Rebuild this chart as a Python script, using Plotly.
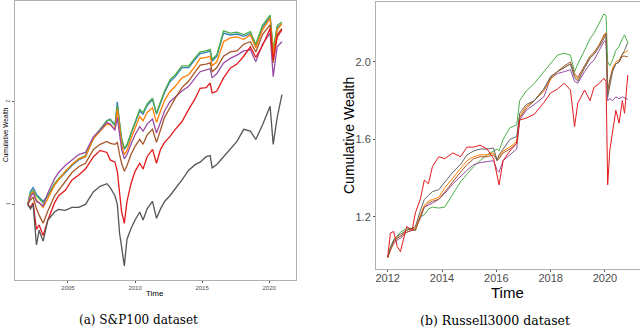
import plotly.graph_objects as go
import math

# ---- (a) S&P100: shared time grid (decimal years) ----
sp_time = [2002.0, 2002.2, 2002.4, 2002.65, 2002.85, 2003.15, 2003.5, 2004.0, 2004.3, 2004.8,
           2005.3, 2005.8, 2006.3, 2006.9, 2007.4, 2007.9, 2008.15, 2008.5, 2008.68, 2008.85,
           2009.0, 2009.2, 2009.4, 2009.7, 2010.0, 2010.35, 2010.6, 2010.9, 2011.3, 2011.6,
           2011.9, 2012.2, 2012.6, 2013.0, 2013.5, 2014.0, 2014.5, 2014.85, 2015.3, 2015.6,
           2015.75, 2016.1, 2016.6, 2017.1, 2017.6, 2018.1, 2018.6, 2019.0, 2019.5, 2020.07,
           2020.3, 2020.6, 2020.95]

sp_blue = [1.00, 1.09, 1.12, 1.07, 1.05, 1.02, 1.06, 1.15, 1.18, 1.24, 1.30, 1.35, 1.38, 1.56, 1.65,
           1.76, 1.78, 1.71, 2.00, 1.73, 1.55, 1.45, 1.49, 1.61, 1.74, 1.88, 1.84, 1.95, 2.03, 1.84,
           1.98, 2.13, 2.29, 2.37, 2.52, 2.52, 2.67, 2.77, 2.79, 2.82, 2.63, 2.72, 3.18, 3.14, 3.16,
           3.11, 3.17, 2.93, 3.31, 3.55, 2.80, 3.30, 3.38]
sp_green = [1.00, 1.08, 1.10, 1.06, 1.04, 1.01, 1.06, 1.15, 1.19, 1.25, 1.31, 1.36, 1.39, 1.57, 1.66,
            1.76, 1.77, 1.70, 1.95, 1.72, 1.56, 1.46, 1.50, 1.62, 1.75, 1.90, 1.86, 1.97, 2.05, 1.85,
            2.00, 2.15, 2.32, 2.40, 2.55, 2.55, 2.70, 2.80, 2.82, 2.85, 2.66, 2.75, 3.23, 3.18, 3.20,
            3.15, 3.21, 2.95, 3.35, 3.59, 2.85, 3.35, 3.43]
sp_orange = [1.00, 1.06, 1.09, 1.03, 1.01, 0.98, 1.04, 1.14, 1.18, 1.25, 1.31, 1.36, 1.38, 1.56, 1.64,
             1.72, 1.71, 1.66, 1.90, 1.66, 1.50, 1.40, 1.44, 1.56, 1.67, 1.81, 1.76, 1.86, 1.92, 1.74,
             1.88, 2.02, 2.14, 2.22, 2.35, 2.40, 2.55, 2.68, 2.70, 2.72, 2.55, 2.62, 3.00, 3.08, 3.10,
             3.05, 3.14, 2.88, 3.25, 3.51, 2.75, 3.25, 3.39]
sp_purple = [1.00, 1.05, 1.08, 1.02, 1.01, 0.99, 1.08, 1.19, 1.24, 1.30, 1.35, 1.40, 1.42, 1.58, 1.65,
             1.74, 1.72, 1.65, 1.80, 1.58, 1.45, 1.36, 1.40, 1.50, 1.60, 1.69, 1.64, 1.72, 1.78, 1.62,
             1.74, 1.88, 2.00, 2.07, 2.15, 2.22, 2.35, 2.45, 2.48, 2.50, 2.35, 2.42, 2.60, 2.68, 2.74,
             2.82, 2.84, 2.62, 2.95, 3.18, 2.37, 2.90, 3.00]
sp_brown = [1.00, 1.03, 1.05, 0.97, 0.93, 0.88, 0.956, 1.06, 1.10, 1.17, 1.24, 1.29, 1.32, 1.45, 1.50,
            1.53, 1.51, 1.50, 1.52, 1.40, 1.32, 1.25, 1.30, 1.40, 1.48, 1.55, 1.50, 1.60, 1.66, 1.52,
            1.65, 1.80, 1.92, 2.05, 2.20, 2.30, 2.45, 2.56, 2.58, 2.60, 2.45, 2.52, 2.72, 2.80, 2.82,
            2.95, 3.00, 2.80, 3.15, 3.36, 2.60, 3.15, 3.28]
sp_red = [1.00, 0.98, 1.01, 0.845, 0.87, 0.81, 0.90, 1.01, 1.06, 1.10, 1.18, 1.22, 1.27, 1.38, 1.44,
          1.42, 1.35, 1.33, 1.25, 1.10, 0.95, 0.88, 1.02, 1.15, 1.25, 1.32, 1.27, 1.38, 1.45, 1.32,
          1.45, 1.52, 1.58, 1.66, 1.75, 1.90, 2.05, 2.19, 2.20, 2.27, 2.12, 2.15, 2.35, 2.51, 2.58,
          2.72, 2.90, 2.70, 2.92, 3.28, 2.65, 3.10, 3.25]
sp_gray = [1.00, 0.97, 1.00, 0.76, 0.84, 0.78, 0.90, 0.95, 0.967, 0.96, 0.98, 0.98, 1.00, 1.09, 1.13,
           1.15, 1.12, 1.06, 1.00, 0.82, 0.75, 0.66, 0.79, 0.85, 0.90, 0.95, 0.90, 0.97, 1.02, 0.91,
           0.97, 1.02, 1.06, 1.11, 1.18, 1.26, 1.31, 1.33, 1.38, 1.39, 1.28, 1.31, 1.38, 1.46, 1.53,
           1.66, 1.64, 1.55, 1.71, 1.94, 1.50, 1.80, 2.10]

# ---- (b) Russell3000 ----
ru_time = [2012.0, 2012.1, 2012.22, 2012.35, 2012.47, 2012.7, 2012.9, 2013.02, 2013.2, 2013.35,
           2013.5, 2013.65, 2013.88, 2014.1, 2014.4, 2014.68, 2014.92, 2015.17, 2015.4, 2015.66,
           2015.9, 2016.03, 2016.1, 2016.25, 2016.5, 2016.75, 2016.86, 2017.1, 2017.4, 2017.75,
           2018.0, 2018.25, 2018.5, 2018.73, 2018.88, 2019.0, 2019.25, 2019.45, 2019.6, 2019.8,
           2019.96, 2020.04, 2020.1, 2020.18, 2020.28, 2020.4, 2020.52, 2020.64, 2020.72, 2020.84]

ru_green = [0.99, 1.04, 1.08, 1.10, 1.12, 1.14, 1.14, 1.13, 1.20, 1.21, 1.24, 1.25, 1.245, 1.25, 1.32,
            1.38, 1.42, 1.46, 1.49, 1.52, 1.54, 1.55, 1.54, 1.60, 1.66, 1.675, 1.80, 1.85, 1.89, 1.95,
            1.99, 2.035, 2.045, 2.035, 1.95, 1.99, 2.06, 2.12, 2.15, 2.20, 2.248, 2.24, 2.00, 1.98, 2.01,
            2.06, 2.08, 2.12, 2.14, 2.10]
ru_orange = [0.99, 1.03, 1.07, 1.09, 1.10, 1.13, 1.14, 1.14, 1.21, 1.26, 1.28, 1.29, 1.30, 1.35, 1.40,
             1.45, 1.49, 1.51, 1.52, 1.52, 1.53, 1.50, 1.51, 1.54, 1.56, 1.59, 1.72, 1.77, 1.80, 1.85,
             1.91, 1.95, 1.97, 1.99, 1.93, 1.91, 1.97, 2.02, 2.045, 2.09, 2.13, 2.15, 1.84, 1.90, 1.97,
             2.00, 2.01, 2.04, 2.05, 2.06]
ru_purple = [0.99, 1.03, 1.06, 1.08, 1.09, 1.12, 1.13, 1.14, 1.19, 1.25, 1.26, 1.27, 1.29, 1.32, 1.37,
             1.41, 1.44, 1.47, 1.48, 1.485, 1.49, 1.44, 1.43, 1.49, 1.52, 1.55, 1.70, 1.75, 1.78, 1.82,
             1.915, 1.94, 1.95, 1.96, 1.90, 1.89, 1.95, 1.99, 2.01, 2.06, 2.105, 2.11, 1.80, 1.81, 1.80,
             1.82, 1.81, 1.82, 1.815, 1.807]
ru_brown = [0.99, 1.03, 1.07, 1.09, 1.10, 1.12, 1.13, 1.13, 1.20, 1.25, 1.27, 1.28, 1.29, 1.33, 1.38,
            1.43, 1.47, 1.50, 1.51, 1.51, 1.52, 1.49, 1.50, 1.53, 1.55, 1.58, 1.71, 1.76, 1.80, 1.86,
            1.92, 1.95, 1.98, 2.00, 1.94, 1.92, 1.98, 2.03, 2.05, 2.09, 2.14, 2.15, 1.85, 1.91, 1.96,
            1.99, 2.00, 2.03, 2.03, 2.027]
ru_red = [0.99, 1.116, 1.124, 1.047, 1.02, 1.15, 1.13, 1.22, 1.29, 1.39, 1.37, 1.46, 1.51, 1.50, 1.53,
          1.51, 1.56, 1.56, 1.57, 1.55, 1.50, 1.40, 1.365, 1.49, 1.54, 1.58, 1.70, 1.71, 1.73, 1.79,
          1.84, 1.86, 1.89, 1.855, 1.666, 1.787, 1.855, 1.80, 1.87, 1.89, 1.916, 1.90, 1.365, 1.546, 1.63,
          1.75, 1.684, 1.80, 1.735, 1.933]
ru_gray = [0.99, 1.04, 1.08, 1.10, 1.11, 1.13, 1.14, 1.15, 1.23, 1.29, 1.31, 1.33, 1.34, 1.38, 1.43,
           1.47, 1.52, 1.54, 1.55, 1.55, 1.555, 1.49, 1.52, 1.55, 1.60, 1.615, 1.735, 1.78, 1.80, 1.86,
           1.925, 1.95, 1.97, 1.99, 1.92, 1.90, 1.97, 2.02, 2.04, 2.08, 2.12, 2.14, 1.82, 1.88, 1.95,
           1.99, 2.00, 2.04, 2.06, 2.10]

sp_series = [(sp_blue, "#377EB8"), (sp_green, "#4DAF4A"), (sp_orange, "#FF7F00"),
             (sp_purple, "#984EA3"), (sp_brown, "#A65628"), (sp_red, "#E41A1C"), (sp_gray, "#555555")]
ru_series = [(ru_green, "#4DAF4A"), (ru_purple, "#984EA3"), (ru_orange, "#FF7F00"),
             (ru_brown, "#A65628"), (ru_gray, "#666666"), (ru_red, "#E41A1C")]

W, H = 640, 334
fig = go.Figure()
for vals, col in sp_series:
    fig.add_trace(go.Scatter(x=sp_time, y=vals, mode="lines", line=dict(color=col, width=1.3),
                             xaxis="x", yaxis="y", showlegend=False, hoverinfo="skip"))
for vals, col in ru_series:
    fig.add_trace(go.Scatter(x=ru_time, y=vals, mode="lines", line=dict(color=col, width=1.0),
                             xaxis="x2", yaxis="y2", showlegend=False, hoverinfo="skip"))

frame = dict(showline=True, linecolor="#b0b0b0", linewidth=1, mirror=True, showgrid=False,
             zeroline=False, ticks="outside", tickcolor="#555555", automargin=False)


def label(text, x, y, size, family="Liberation Sans", angle=0):
    # place text by its centre, in pixels from the top-left corner
    return dict(text=text, x=x / W, y=(H - y) / H, xref="paper", yref="paper", showarrow=False,
                xanchor="center", yanchor="middle", textangle=angle,
                font=dict(family=family, size=size, color="black"))


fig.update_layout(
    width=W, height=H, margin=dict(l=0, r=0, t=0, b=0),
    plot_bgcolor="white", paper_bgcolor="white",
    xaxis=dict(frame, domain=[15 / W, 296 / W], range=[2001.05, 2022.0],
               tickvals=[2005, 2010, 2015, 2020], ticklen=2,
               tickfont=dict(family="Liberation Sans", size=6, color="#4d4d4d")),
    yaxis=dict(frame, domain=[(H - 280) / H, (H - 1) / H], type="log",
               range=[math.log10(0.60), math.log10(3.95)], tickvals=[1, 2], ticktext=["1", "2"],
               ticklen=2, tickangle=-90,
               tickfont=dict(family="Liberation Sans", size=5, color="#4d4d4d")),
    xaxis2=dict(frame, domain=[376 / W, 1.0], range=[2011.57, 2021.29], anchor="y2",
                tickvals=[2012, 2014, 2016, 2018, 2020], ticklen=2, ticklabelstandoff=-3,
                tickfont=dict(family="Liberation Sans", size=11, color="#4d4d4d")),
    yaxis2=dict(frame, domain=[(H - 269) / H, (H - 2) / H], range=[0.93, 2.31], anchor="x2",
                tickvals=[1.2, 1.6, 2.0], ticktext=["1.2", "1.6", "2.0"], ticklen=2,
                tickfont=dict(family="Liberation Sans", size=11, color="#4d4d4d")),
    annotations=[
        label("Time", 155, 293, 8),
        label("Cumulative Wealth", 5, 135, 6.5, angle=-90),
        label("Time", 507, 292, 15),
        label("Cumulative Wealth", 349, 136, 14, angle=-90),
        label("(a) S&amp;P100 dataset", 138, 320, 12, family="DejaVu Serif"),
        label("(b) Russell3000 dataset", 495, 320, 12.5, family="DejaVu Serif"),
    ],
)

# page body has a default 8px margin; drop it so the figure sits at the window corner
fig.write_html("out.html", config={"displayModeBar": False, "staticPlot": True},
               post_script="document.body.style.margin='0';document.body.style.overflow='hidden';")
